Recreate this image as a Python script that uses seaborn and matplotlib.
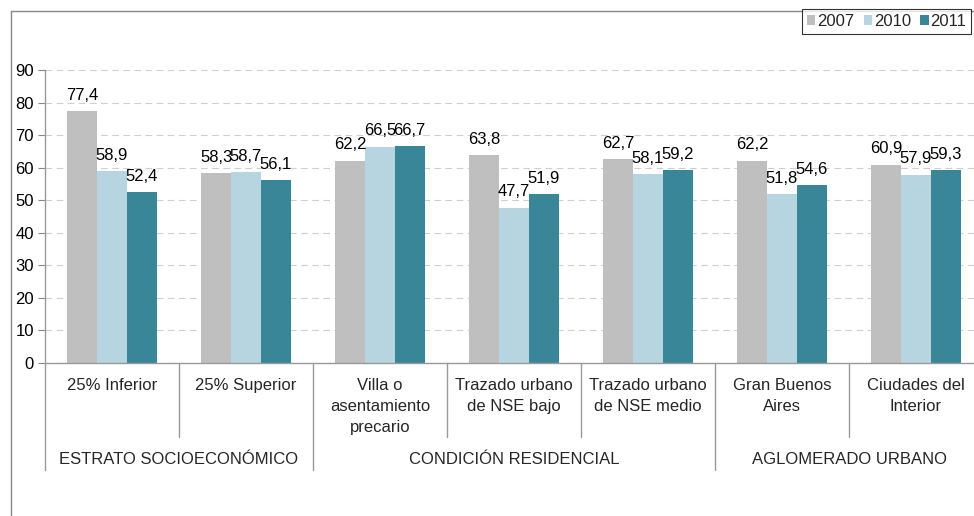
import pandas as pd
import seaborn as sns
import matplotlib.pyplot as plt
from matplotlib.lines import Line2D
from matplotlib.patches import Patch

categorias = ["25% Inferior", "25% Superior", "Villa o\nasentamiento\nprecario",
              "Trazado urbano\nde NSE bajo", "Trazado urbano\nde NSE medio",
              "Gran Buenos\nAires", "Ciudades del\nInterior"]
grupos = ["ESTRATO SOCIOECONÓMICO", "CONDICIÓN RESIDENCIAL", "AGLOMERADO URBANO"]
grupo_tam = [2, 3, 2]
anios = ["2007", "2010", "2011"]
v2007 = [77.4, 58.3, 62.2, 63.8, 62.7, 62.2, 60.9]
v2010 = [58.9, 58.7, 66.5, 47.7, 58.1, 51.8, 57.9]
v2011 = [52.4, 56.1, 66.7, 51.9, 59.2, 54.6, 59.3]
colores = ["#BFBFBF", "#B7D5E0", "#3A8699"]

rows = []
for anio, vals in zip(anios, [v2007, v2010, v2011]):
    for c, v in zip(categorias, vals):
        rows.append({"cat": c, "anio": anio, "valor": v})
df = pd.DataFrame(rows)

sns.set_style("white")
plt.rcParams['font.family'] = ['Liberation Sans', 'DejaVu Sans']
FS = 12

fig = plt.figure(figsize=(9.74, 5.16), dpi=100)
W, H = 974, 516
ax = fig.add_axes([45 / W, 1 - 363 / H, (983 - 45) / W, (363 - 70) / H])

sns.barplot(data=df, x="cat", y="valor", hue="anio", palette=colores,
            width=0.665, saturation=1, legend=False, linewidth=0, ax=ax)

for cont, vals in zip(ax.containers, [v2007, v2010, v2011]):
    for bar, v in zip(cont, vals):
        ax.annotate(f"{v:.1f}".replace(".", ","),
                    (bar.get_x() + bar.get_width() / 2, bar.get_height()),
                    xytext=(0, 6), textcoords="offset points",
                    ha="center", va="bottom", fontsize=FS, color="black")

ax.set_ylim(0, 90)
ax.set_yticks(range(0, 91, 10))
ax.set_xlim(-0.5, len(categorias) - 0.5)
ax.set_xlabel("")
ax.set_ylabel("")
ax.set_xticks([])
ax.yaxis.grid(True, linestyle=(0, (6, 4)), linewidth=0.8, color="#CFCFCF")
ax.set_axisbelow(True)
ax.tick_params(axis="y", length=5, width=0.8, color="#888888",
               labelsize=FS, labelcolor="black", pad=3, left=True)
for s in ["top", "right"]:
    ax.spines[s].set_visible(False)
for s in ["left", "bottom"]:
    ax.spines[s].set_color("#999999")
    ax.spines[s].set_linewidth(1.0)

trans = ax.get_xaxis_transform()
ax_h = 363 - 70
# etiquetas de categoria
for i, c in enumerate(categorias):
    ax.text(i, -(378 - 363) / ax_h, c, transform=trans, ha="center", va="top",
            fontsize=FS, linespacing=1.48)

# separadores
corto = -(437 - 363) / ax_h
largo = -(470 - 363) / ax_h
limites = [0]
for n in grupo_tam:
    limites.append(limites[-1] + n)
for k in range(len(categorias) + 1):
    y_end = largo if k in limites else corto
    ax.plot([k - 0.5, k - 0.5], [0, y_end], transform=trans, color="#999999",
            linewidth=1.0, clip_on=False)

# etiquetas de grupo
for g, a, b in zip(grupos, limites[:-1], limites[1:]):
    ax.text((a + b) / 2 - 0.5, -(459 - 363) / ax_h, g, transform=trans,
            ha="center", va="center", fontsize=FS)

# borde exterior del grafico
fig.add_artist(Line2D([11 / W, 1], [1 - 11 / H, 1 - 11 / H], color="#888888", linewidth=1.0))
fig.add_artist(Line2D([11 / W, 11 / W], [0, 1 - 11 / H], color="#888888", linewidth=1.0))

handles = [Patch(facecolor=c, edgecolor="none") for c in colores]
leg = fig.legend(handles, anios, loc="upper left", bbox_to_anchor=(802 / W, 1 - 9 / H),
                 ncol=3, fontsize=FS, frameon=True, fancybox=False,
                 handlelength=0.5, handleheight=0.6, handletextpad=0.12,
                 columnspacing=0.55, borderpad=0.3, borderaxespad=0)
leg.get_frame().set_edgecolor("black")
leg.get_frame().set_linewidth(0.8)

fig.savefig("out.png", dpi=100)
